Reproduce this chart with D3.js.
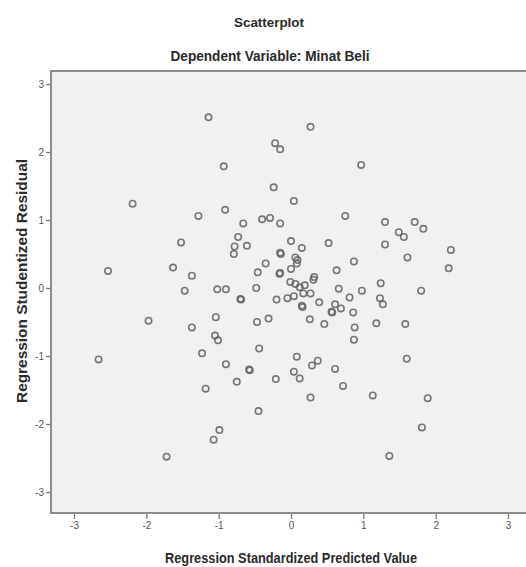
<!DOCTYPE html>
<html>
<head>
<meta charset="utf-8">
<script src="https://cdn.jsdelivr.net/npm/d3@7"></script>
<style>
body { margin: 0; background: #fff; }
text { font-family: "Liberation Sans Narrow", "Arial Narrow", "Liberation Sans", sans-serif; }
</style>
</head>
<body>
<svg id="chart" width="526" height="567"></svg>
<script>
// predicted values (x) and studentized residuals (y)
var predicted = [
	-1.14, -0.22, -0.15, -0.93, -0.24, -2.19, -1.28, -0.91, -0.66, -0.40,
	-0.29, -0.15, -0.73, -0.78, -0.79, -0.61, -1.52, -0.15, -0.14, -2.53,
	-1.63, -1.37, -0.35, -0.46, -0.16, -0.15, -1.47, -1.02, -0.90, -0.48,
	-0.70, -0.69, -0.20, -0.05, -1.97, -1.37, -1.04, -1.05, -1.01, -0.47,
	-0.31, -0.44, -2.66, -1.23, -0.90, -0.58, -0.57, -0.75, -1.18, -0.21,
	-0.45, -0.99, -1.07, -1.72, 0.27, 0.97, 0.04, 0.75, 1.30, 1.71,
	1.83, 1.49, 1.56, 0.00, 0.15, 0.52, 1.30, 2.21, 1.61, 2.18,
	0.06, 0.09, 0.08, 0.00, 0.87, 0.63, 0.32, -0.01, 0.06, 0.12,
	0.19, 0.66, 0.98, 1.24, 1.80, 0.04, 0.17, 0.27, 0.15, 0.16,
	0.39, 0.61, 0.56, 0.57, 0.69, 0.81, 0.86, 1.23, 1.27, 0.26,
	0.46, 0.88, 0.87, 1.18, 1.58, 0.08, 0.04, 0.12, 0.29, 0.37,
	0.61, 0.72, 0.27, 1.13, 1.60, 1.89, 1.81, 1.36, 0.31
];
var residual = [
	2.51, 2.13, 2.04, 1.79, 1.48, 1.24, 1.06, 1.15, 0.95, 1.01,
	1.03, 0.95, 0.75, 0.61, 0.50, 0.62, 0.67, 0.52, 0.50, 0.25,
	0.30, 0.18, 0.36, 0.23, 0.21, 0.22, -0.04, -0.02, -0.02, 0.00,
	-0.16, -0.17, -0.17, -0.15, -0.48, -0.58, -0.43, -0.70, -0.77, -0.50,
	-0.45, -0.89, -1.05, -0.96, -1.12, -1.20, -1.21, -1.38, -1.48, -1.34,
	-1.81, -2.09, -2.23, -2.48, 2.37, 1.81, 1.28, 1.06, 0.97, 0.97,
	0.87, 0.82, 0.75, 0.69, 0.59, 0.66, 0.64, 0.56, 0.45, 0.29,
	0.45, 0.41, 0.36, 0.28, 0.39, 0.26, 0.16, 0.09, 0.06, 0.01,
	0.04, -0.01, -0.04, 0.07, -0.04, -0.12, -0.08, -0.08, -0.26, -0.28,
	-0.21, -0.24, -0.35, -0.36, -0.30, -0.14, -0.36, -0.15, -0.24, -0.46,
	-0.53, -0.58, -0.76, -0.52, -0.53, -1.01, -1.23, -1.33, -1.14, -1.07,
	-1.19, -1.44, -1.61, -1.58, -1.04, -1.62, -2.05, -2.47, 0.12
];
var tickValues = [-3, -2, -1, 0, 1, 2, 3];
var chartTitle = "Scatterplot";
var chartSubtitle = "Dependent Variable: Minat Beli";
var xTitle = "Regression Standardized Predicted Value";
var yTitle = "Regression Studentized Residual";

function init() {
	var svg = d3.select("#chart");
	var points = predicted.map(function(d, i) { return { x: d, y: residual[i] }; });

	var x = d3.scaleLinear().domain([-3, 3]).range([74, 508]);
	var y = d3.scaleLinear().domain([-3, 3]).range([492, 84]);

	// plot area
	svg.append("rect")
		.attr("x", 51).attr("y", 71)
		.attr("width", 480).attr("height", 442)
		.attr("fill", "#f0f0f0")
		.attr("stroke", "#8c8c8c")
		.attr("stroke-width", 2);

	var tickFmt = function(d) { return String(d); };
	var xAxis = svg.append("g")
		.attr("transform", "translate(0,514)")
		.call(d3.axisBottom(x).tickValues(tickValues).tickFormat(tickFmt).tickSize(5).tickPadding(3));
	var yAxis = svg.append("g")
		.attr("transform", "translate(50,0)")
		.call(d3.axisLeft(y).tickValues(tickValues).tickFormat(tickFmt).tickSize(4).tickPadding(2));
	[xAxis, yAxis].forEach(function(ax) {
		ax.select(".domain").remove();
		ax.selectAll(".tick line").attr("stroke", "#777").attr("stroke-width", 1.3);
		ax.selectAll(".tick text")
			.attr("fill", "#555")
			.style("font-size", "10px");
	});

	svg.append("g").selectAll("circle.point")
		.data(points)
		.enter()
		.append("circle")
		.attr("class", "point")
		.attr("cx", function(d) { return x(d.x); })
		.attr("cy", function(d) { return y(d.y); })
		.attr("r", 3.2)
		.attr("fill", "none")
		.attr("stroke", "#626262")
		.attr("stroke-opacity", 0.85)
		.attr("stroke-width", 1.6);

	function label(txt, px, py, size, len, rotate) {
		var t = svg.append("text")
			.attr("text-anchor", "middle")
			.attr("font-weight", "bold")
			.attr("fill", "#2a2a2a")
			.style("font-size", size + "px")
			.attr("textLength", len)
			.attr("lengthAdjust", "spacingAndGlyphs")
			.text(txt);
		if (rotate) {
			t.attr("transform", "translate(" + px + "," + py + ") rotate(-90)");
		} else {
			t.attr("x", px).attr("y", py);
		}
	}
	label(chartTitle, 269, 27, 13, 70, false);
	label(chartSubtitle, 270, 61, 14, 199, false);
	label(xTitle, 291, 563, 14, 252, false);
	label(yTitle, 27, 281, 14, 244, true);
}

init();
</script>
</body>
</html>
